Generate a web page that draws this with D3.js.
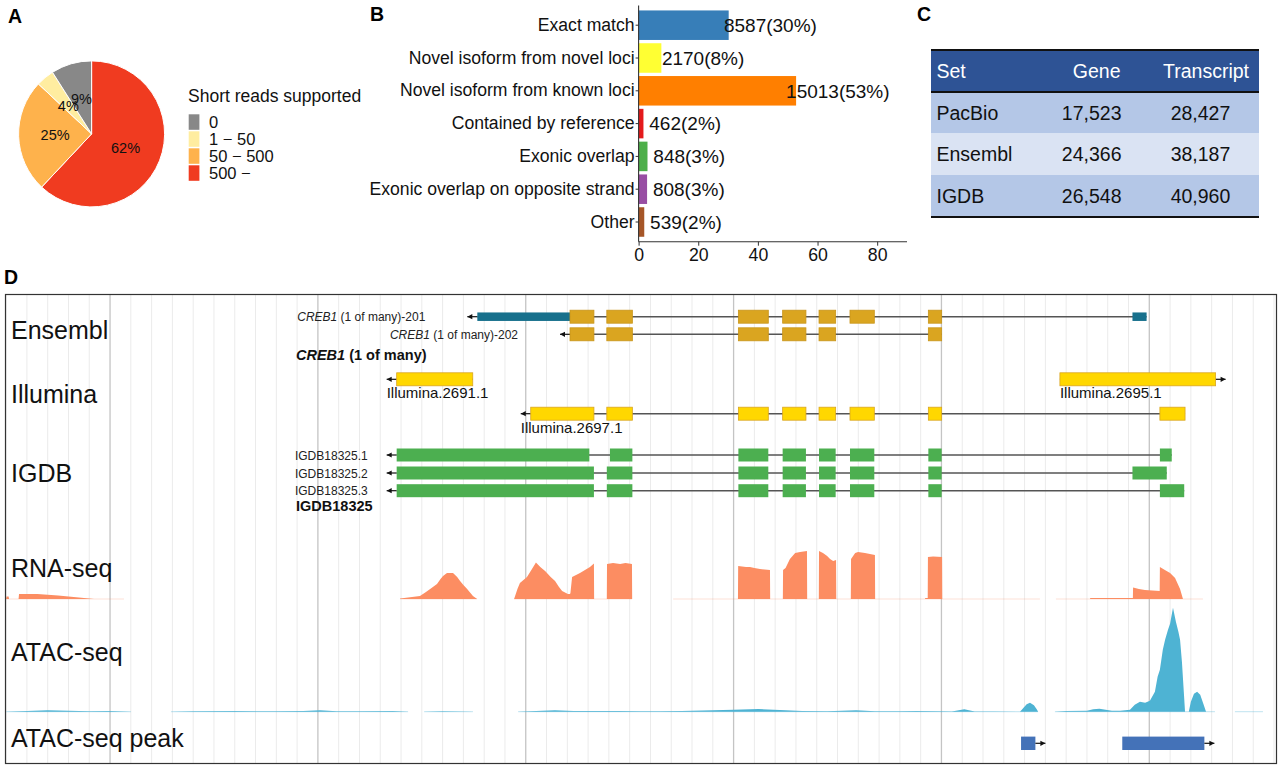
<!DOCTYPE html>
<html><head><meta charset="utf-8">
<script src="https://cdn.jsdelivr.net/npm/d3@7"></script>
<style>
html,body{margin:0;padding:0;background:#fff;}
svg{display:block;font-family:"Liberation Sans",Arial,Helvetica,sans-serif;}
</style></head><body>
<svg id="fig" width="1280" height="767"></svg>
<script>
// ---------------- DATA ----------------
// Panel A
const pieCategories = ["0", "1 \u2212 50", "50 \u2212 500", "500 \u2212"];
const piePercent = [9, 4, 25, 62];
const pieColors = ["#888888", "#FFEDA0", "#FEB24C", "#F03B20"];
const pieTitle = "Short reads supported";

// Panel B
const classCategories = ["Exact match", "Novel isoform from novel loci", "Novel isoform from known loci",
  "Contained by reference", "Exonic overlap", "Exonic overlap on opposite strand", "Other"];
const classCounts = [8587, 2170, 15013, 462, 848, 808, 539];
const classColors = ["#377EB8", "#FFFF33", "#FF7F00", "#E41A1C", "#4DAF4A", "#984EA3", "#A65628"];
const classTicks = [0, 20, 40, 60, 80];

// Panel C
const tableHeader = ["Set", "Gene", "Transcript"];
const tableSets = ["PacBio", "Ensembl", "IGDB"];
const tableGenes = ["17,523", "24,366", "26,548"];
const tableTranscripts = ["28,427", "38,187", "40,960"];

// Panel D (genomic positions in kb)
const trackNames = ["Ensembl", "Illumina", "IGDB", "RNA-seq", "ATAC-seq", "ATAC-seq peak"];
const ensemblTranscripts = [
  {id: "201", lane: 0, strand: "-", utr: [[27.67, 32.13], [59.19, 59.87]],
   cds: [[32.13, 33.28], [33.90, 35.13], [40.23, 41.67], [42.36, 43.48], [44.11, 44.91], [45.60, 46.77], [49.37, 50.01]]},
  {id: "202", lane: 1, strand: "-", utr: [],
   cds: [[32.13, 33.28], [33.90, 35.13], [40.23, 41.67], [42.36, 43.48], [44.11, 44.91], [49.37, 50.01]]}
];
const ensemblGene = "CREB1";
const illuminaTranscripts = [
  {name: "Illumina.2691.1", lane: 0, strand: "-", exons: [[23.79, 27.45]]},
  {name: "Illumina.2695.1", lane: 0, strand: "+", exons: [[55.70, 63.19]]},
  {name: "Illumina.2697.1", lane: 1, strand: "-", exons: [[30.24, 33.28], [33.90, 35.13], [40.23, 41.67], [42.36, 43.48], [44.11, 44.91], [45.60, 46.77], [49.37, 50.01], [60.51, 61.72]]}
];
const igdbTranscripts = [
  {name: "IGDB18325.1", lane: 0, strand: "-", exons: [[23.79, 33.06], [34.05, 35.13], [40.23, 41.67], [42.36, 43.48], [44.11, 44.91], [45.60, 46.77], [49.37, 50.01], [60.51, 61.08]]},
  {name: "IGDB18325.2", lane: 1, strand: "-", exons: [[23.79, 33.28], [33.90, 35.13], [40.23, 41.67], [42.36, 43.48], [44.11, 44.91], [45.60, 46.77], [49.37, 50.01], [59.19, 60.84]]},
  {name: "IGDB18325.3", lane: 2, strand: "-", exons: [[23.79, 33.28], [33.90, 35.13], [40.23, 41.67], [42.36, 43.48], [44.11, 44.91], [45.60, 46.77], [49.37, 50.01], [60.51, 61.68]]}
];
const igdbGene = "IGDB18325";
const rnaCoverage = [
  [5.0, 0], [5.02, 5], [5.12, 5], [5.14, 0], [5.6, 0], [5.62, 10], [6.5, 10], [7.5, 7], [8.5, 3], [9.23, 0],
  [23.95, 0], [23.96, 1], [24.91, 6], [25.2, 14], [25.4, 20], [25.73, 30], [25.9, 40], [26.02, 46], [26.21, 52], [26.5, 52],
  [26.7, 44], [26.84, 36], [27.0, 28], [27.18, 20], [27.46, 6], [27.66, 0],
  [29.44, 0], [29.6, 20], [29.72, 32], [30.06, 44], [30.3, 60], [30.49, 73], [30.7, 64], [30.93, 56], [31.2, 44], [31.41, 36],
  [31.6, 24], [31.75, 16], [32.03, 10], [32.13, 10], [32.15, 12], [32.23, 44], [32.61, 52], [33.09, 64], [33.28, 71], [33.29, 0],
  [33.90, 0], [33.91, 70], [34.2, 72], [34.54, 70], [34.8, 72], [35.11, 70], [35.12, 0],
  [40.21, 0], [40.22, 66], [40.6, 64], [40.79, 64], [41.0, 62], [41.27, 60], [41.75, 58], [41.76, 0],
  [42.37, 0], [42.38, 58], [42.5, 62], [42.71, 80], [42.96, 92], [43.2, 94], [43.53, 96], [43.54, 0],
  [44.10, 0], [44.11, 96], [44.3, 92], [44.5, 86], [44.64, 80], [44.79, 76], [44.93, 78], [44.94, 0],
  [45.64, 0], [45.65, 80], [45.85, 92], [45.99, 94], [46.32, 92], [46.56, 90], [46.80, 88], [46.81, 0],
  [49.21, 0], [49.22, 2], [49.34, 2], [49.35, 84], [49.6, 85], [50.03, 84], [50.04, 0],
  [57.15, 0], [57.16, 2], [59.21, 2], [59.22, 23], [59.5, 20], [59.79, 18], [60.5, 16], [60.51, 64], [60.75, 58],
  [61.0, 52], [61.24, 42], [61.48, 20], [61.62, 0]
];
const rnaCovered = [[5.0, 10.67], [23.95, 27.66], [29.44, 35.11], [37.09, 54.74], [55.51, 62.58]];
const atacCoverage = [
  [5.0, 0], [6.0, 0.8], [7.0, 1.5], [8.0, 1], [9.0, 0.4], [10.0, 0.6], [11.0, 0],
  [12.93, 0], [14, 0.4], [16, 0.6], [18, 0.5], [19.3, 0.6], [20.1, 1.5], [20.9, 0.5], [22, 0.4], [23.6, 0.8], [24.34, 0],
  [25.11, 0], [26, 0.5], [27.46, 0],
  [29.63, 0], [30.5, 0.6], [31.4, 1.5], [32.3, 0.6], [33.5, 0.8], [34.5, 0.6], [35.5, 0.5], [36.5, 0.5], [37.5, 0.8],
  [38.5, 1.2], [40, 2], [41.2, 2.7], [42.5, 1.5], [43.3, 0.6], [44.5, 0.5], [45.9, 1.5], [46.8, 0.5], [48, 0.5],
  [48.8, 0.8], [49.8, 0.4], [50.5, 0.3], [51.1, 2.5], [51.6, 0.3], [52.5, 0.2],
  [53.78, 0], [53.95, 4], [54.1, 7.5], [54.26, 9], [54.45, 6.5], [54.6, 2], [54.65, 0],
  [55.46, 0], [56, 0.7], [57.0, 1], [57.3, 2.5], [57.6, 3], [57.9, 2], [58.2, 1], [58.6, 1], [59.07, 2], [59.3, 7],
  [59.55, 10], [59.8, 9], [60.03, 11], [60.27, 20], [60.4, 35], [60.51, 42], [60.65, 62], [60.76, 72], [60.9, 82],
  [61.0, 88], [61.14, 104], [61.28, 90], [61.4, 80], [61.48, 72], [61.57, 50], [61.66, 20], [61.72, 0],
  [61.9, 0], [62.0, 10], [62.15, 18], [62.3, 20], [62.45, 17], [62.6, 8], [62.73, 0]
];
const atacCovered = [[5.0, 11.01], [12.93, 24.34], [25.11, 27.46], [29.63, 54.65], [55.46, 63.16], [64.12, 65.47]];
const atacPeaks = [{start: 53.83, end: 54.52, strand: "+"}, {start: 58.70, end: 62.65, strand: "+"}];
const genomeDomain = [4.97, 66.12];
const majorTicks = [10, 20, 30, 40, 50, 60];

// ---------------- DRAW ----------------
const svg = d3.select("#fig");
const FONT = '"Liberation Sans",Arial,Helvetica,sans-serif';

function panelLabel(t, x, y) {
  svg.append("text").attr("x", x).attr("y", y).attr("font-size", 19.5).attr("font-weight", "bold").text(t);
}
panelLabel("A", 8, 23);
panelLabel("B", 370, 21);
panelLabel("C", 917, 21);
panelLabel("D", 4, 284);

// ---- Panel A: pie ----
(function () {
  const R = 73;
  const g = svg.append("g").attr("transform", "translate(91.6,133.9)");
  const order = d3.range(pieCategories.length).reverse();
  const slices = order.map(i => ({cat: pieCategories[i], v: piePercent[i], c: pieColors[i]}));
  const arcs = d3.pie().sort(null).value(d => d.v)(slices);
  const arc = d3.arc().innerRadius(0).outerRadius(R);
  g.selectAll("path.s").data(arcs).join("path").attr("class", "s")
    .attr("d", arc).attr("fill", d => d.data.c).attr("stroke", "#fff").attr("stroke-width", 1);
  g.selectAll("text.l").data(arcs).join("text").attr("class", "l")
    .attr("transform", d => `translate(${arc.centroid(d)})`)
    .attr("text-anchor", "middle").attr("dy", "0.36em").attr("font-size", 14.5).attr("fill", "#111")
    .text(d => d.data.v + "%");

  const lg = svg.append("g");
  lg.append("text").attr("x", 188).attr("y", 102).attr("font-size", 17.5).attr("fill", "#111").text(pieTitle);
  const ly = d3.scaleBand().domain(pieCategories).range([114.3, 182.3]);
  lg.selectAll("rect").data(pieCategories).join("rect")
    .attr("x", 188.7).attr("y", d => ly(d)).attr("width", 10.7).attr("height", 15.5)
    .attr("fill", (d, i) => pieColors[i]);
  lg.selectAll("text.k").data(pieCategories).join("text").attr("class", "k")
    .attr("x", 209).attr("y", d => ly(d) + 7.75).attr("dy", "0.36em").attr("font-size", 16.5).attr("fill", "#111")
    .text(d => d);
})();

// ---- Panel B: bars ----
(function () {
  const total = d3.sum(classCounts);
  const pct = classCounts.map(c => c / total * 100);
  const x = d3.scaleLinear().domain([0, 90]).range([638.6, 907]);
  const y = d3.scaleBand().domain(classCategories).range([8.8, 238.4]).paddingInner(0.1).paddingOuter(0.05);
  const g = svg.append("g");
  g.selectAll("rect").data(classCategories).join("rect")
    .attr("x", x(0)).attr("y", d => y(d)).attr("height", y.bandwidth())
    .attr("width", (d, i) => x(pct[i]) - x(0)).attr("fill", (d, i) => classColors[i]);
  g.selectAll("text.v").data(classCategories).join("text").attr("class", "v")
    .attr("x", (d, i) => x(pct[i] + 14)).attr("y", d => y(d) + y.bandwidth() / 2).attr("dy", "0.36em")
    .attr("text-anchor", "middle").attr("font-size", 19).attr("fill", "#111")
    .text((d, i) => classCounts[i] + "(" + Math.round(pct[i]) + "%)");
  const axisY = 241.7;
  const xa = g.append("g").attr("transform", `translate(0,${axisY})`)
    .call(d3.axisBottom(x).tickValues(classTicks).tickSize(4).tickPadding(3));
  xa.select(".domain").remove();
  xa.selectAll("text").attr("font-size", 17.7).attr("font-family", FONT).attr("fill", "#111");
  xa.selectAll("line").attr("stroke", "#333");
  const ya = g.append("g").attr("transform", `translate(${x(0)},0)`)
    .call(d3.axisLeft(y).tickSize(3).tickPadding(1));
  ya.select(".domain").remove();
  ya.selectAll("text").attr("font-size", 17.6).attr("font-family", FONT).attr("fill", "#111");
  ya.selectAll("line").attr("stroke", "#333");
  g.append("line").attr("x1", x(0)).attr("x2", x(0)).attr("y1", 5.5).attr("y2", axisY).attr("stroke", "#333").attr("stroke-width", 1.1);
  g.append("line").attr("x1", x(0)).attr("x2", x(90)).attr("y1", axisY).attr("y2", axisY).attr("stroke", "#333").attr("stroke-width", 1.1);
})();

// ---- Panel C: table ----
(function () {
  const g = svg.append("g");
  const left = 931, right = 1259;
  const rowEdges = [50, 92, 133.5, 175, 217];
  const fills = ["#2E5395", "#B4C7E7", "#DAE3F3", "#B4C7E7"];
  fills.forEach((f, i) => g.append("rect").attr("x", left).attr("y", rowEdges[i]).attr("width", right - left)
    .attr("height", rowEdges[i + 1] - rowEdges[i]).attr("fill", f));
  [[50, 2.2], [92, 1.8], [217, 2.2]].forEach(([yy, w]) =>
    g.append("line").attr("x1", left).attr("x2", right).attr("y1", yy).attr("y2", yy).attr("stroke", "#111").attr("stroke-width", w));
  const fs = 19.5;
  const hy = (rowEdges[0] + rowEdges[1]) / 2;
  g.append("text").attr("x", 936.5).attr("y", hy).attr("dy", "0.36em").attr("font-size", fs).attr("fill", "#fff").text(tableHeader[0]);
  g.append("text").attr("x", 1120.5).attr("y", hy).attr("dy", "0.36em").attr("text-anchor", "end").attr("font-size", fs).attr("fill", "#fff").text(tableHeader[1]);
  g.append("text").attr("x", 1249).attr("y", hy).attr("dy", "0.36em").attr("text-anchor", "end").attr("font-size", fs).attr("fill", "#fff").text(tableHeader[2]);
  tableSets.forEach((s, i) => {
    const cy = (rowEdges[i + 1] + rowEdges[i + 2]) / 2;
    g.append("text").attr("x", 936.5).attr("y", cy).attr("dy", "0.36em").attr("font-size", fs).attr("fill", "#111").text(s);
    g.append("text").attr("x", 1121.5).attr("y", cy).attr("dy", "0.36em").attr("text-anchor", "end").attr("font-size", fs).attr("fill", "#111").text(tableGenes[i]);
    g.append("text").attr("x", 1200.5).attr("y", cy).attr("dy", "0.36em").attr("text-anchor", "middle").attr("font-size", fs).attr("fill", "#111").text(tableTranscripts[i]);
  });
})();

// ---- Panel D: genome browser ----
(function () {
  const box = {x: 5.5, y: 294.5, w: 1271, h: 469};
  const x = d3.scaleLinear().domain(genomeDomain).range([box.x, box.x + box.w]);
  const g = svg.append("g");
  const minor = d3.range(5, 67).filter(v => !majorTicks.includes(v) && x(v) > box.x + 0.5 && x(v) < box.x + box.w - 0.5);
  g.selectAll("line.mi").data(minor).join("line").attr("class", "mi")
    .attr("x1", d => x(d)).attr("x2", d => x(d)).attr("y1", box.y).attr("y2", box.y + box.h)
    .attr("stroke", "#ebebeb").attr("stroke-width", 1);
  g.selectAll("line.ma").data(majorTicks).join("line").attr("class", "ma")
    .attr("x1", d => x(d)).attr("x2", d => x(d)).attr("y1", box.y).attr("y2", box.y + box.h)
    .attr("stroke", "#c4c4c4").attr("stroke-width", 1.3);

  // track labels
  const trackBaselines = [338.5, 403, 482, 576.5, 661, 747];
  g.selectAll("text.tr").data(trackNames).join("text").attr("class", "tr")
    .attr("x", 11).attr("y", (d, i) => trackBaselines[i]).attr("font-size", 25).attr("fill", "#111").text(d => d);

  const arrowLen = 10;
  function arrow(gg, xs, yy, dir) {
    const tip = xs + dir * arrowLen;
    gg.append("line").attr("x1", xs).attr("x2", tip).attr("y1", yy).attr("y2", yy).attr("stroke", "#111").attr("stroke-width", 1.2);
    gg.append("path").attr("d", `M${tip},${yy} L${tip - dir * 5},${yy - 2.6} L${tip - dir * 5},${yy + 2.6} Z`).attr("fill", "#111");
    return tip;
  }
  function transcript(gg, exons, yy, strand, fill, stroke, hgt, extra) {
    const all = exons.concat(extra ? extra.map(e => e.r) : []);
    const s = d3.min(all, e => e[0]), e = d3.max(all, e => e[1]);
    gg.append("line").attr("x1", x(s)).attr("x2", x(e)).attr("y1", yy).attr("y2", yy).attr("stroke", "#555").attr("stroke-width", 1.5);
    let tip;
    if (strand === "-") tip = arrow(gg, x(s), yy, -1); else tip = arrow(gg, x(e), yy, 1);
    if (extra) extra.forEach(u => gg.append("rect").attr("x", x(u.r[0])).attr("width", x(u.r[1]) - x(u.r[0]))
      .attr("y", yy - u.h / 2).attr("height", u.h).attr("fill", u.fill));
    gg.selectAll(null).data(exons).join("rect")
      .attr("x", d => x(d[0])).attr("width", d => x(d[1]) - x(d[0]))
      .attr("y", yy - hgt / 2).attr("height", hgt).attr("fill", fill)
      .attr("stroke", stroke || "none").attr("stroke-width", stroke ? 0.8 : 0);
    return {tip, s, e};
  }

  // Ensembl
  const ensLanes = [316.7, 334.3];
  const ensG = g.append("g");
  ensemblTranscripts.forEach(t => {
    const yy = ensLanes[t.lane];
    const r = transcript(ensG, t.cds, yy, t.strand, "#DAA520", "#C9951A", 13,
      t.utr.map(u => ({r: u, h: 8.5, fill: "#17708C"})));
    const tx = ensG.append("text").attr("x", r.tip - 42).attr("y", yy + 4.6).attr("text-anchor", "end")
      .attr("font-size", 12).attr("fill", "#222");
    tx.append("tspan").attr("font-style", "italic").text(ensemblGene);
    tx.append("tspan").text(" (1 of many)-" + t.id);
  });
  const gl = ensG.append("text").attr("x", 296).attr("y", 360).attr("font-size", 14.5).attr("font-weight", "bold").attr("fill", "#111");
  gl.append("tspan").attr("font-style", "italic").text(ensemblGene);
  gl.append("tspan").text(" (1 of many)");

  // Illumina
  const illLanes = [379.3, 413.7];
  const illG = g.append("g");
  illuminaTranscripts.forEach(t => {
    const yy = illLanes[t.lane];
    const r = transcript(illG, t.exons, yy, t.strand, "#FFD700", "#DAA520", 13);
    const lx = t.strand === "-" ? r.tip : x(r.s);
    illG.append("text").attr("x", lx).attr("y", yy + 19).attr("font-size", 15).attr("fill", "#111").text(t.name);
  });

  // IGDB
  const igLanes = [455, 473, 490.7];
  const igG = g.append("g");
  igdbTranscripts.forEach(t => {
    const yy = igLanes[t.lane];
    const r = transcript(igG, t.exons, yy, t.strand, "#4CAF50", null, 13);
    igG.append("text").attr("x", r.tip - 19).attr("y", yy + 4.6).attr("text-anchor", "end")
      .attr("font-size", 12).attr("fill", "#222").text(t.name);
  });
  igG.append("text").attr("x", 296).attr("y", 511).attr("font-size", 14.5).attr("font-weight", "bold").attr("fill", "#111").text(igdbGene);

  // RNA-seq
  const yR = d3.scaleLinear().domain([0, 100]).range([599, 549]);
  g.selectAll("line.rc").data(rnaCovered).join("line").attr("class", "rc")
    .attr("x1", d => x(d[0])).attr("x2", d => x(d[1])).attr("y1", yR(0)).attr("y2", yR(0))
    .attr("stroke", "#FC8D62").attr("stroke-opacity", 0.25).attr("stroke-width", 1);
  g.append("path").datum(rnaCoverage)
    .attr("d", d3.area().x(d => x(d[0])).y0(yR(0)).y1(d => yR(d[1])))
    .attr("fill", "#FC8D62");

  // ATAC-seq
  const yA = d3.scaleLinear().domain([0, 105]).range([711.7, 606.7]);
  g.selectAll("line.ac").data(atacCovered).join("line").attr("class", "ac")
    .attr("x1", d => x(d[0])).attr("x2", d => x(d[1])).attr("y1", yA(0)).attr("y2", yA(0))
    .attr("stroke", "#4EB3D3").attr("stroke-opacity", 0.35).attr("stroke-width", 1);
  g.append("path").datum(atacCoverage)
    .attr("d", d3.area().x(d => x(d[0])).y0(yA(0)).y1(d => yA(d[1])))
    .attr("fill", "#4EB3D3");

  // ATAC peaks
  const pkY = 743.3;
  const pkG = g.append("g");
  atacPeaks.forEach(p => {
    pkG.append("rect").attr("x", x(p.start)).attr("width", x(p.end) - x(p.start))
      .attr("y", pkY - 6.7).attr("height", 13.4).attr("fill", "#4472B8");
    if (p.strand === "+") arrow(pkG, x(p.end), pkY, 1); else arrow(pkG, x(p.start), pkY, -1);
  });

  g.append("rect").attr("x", box.x).attr("y", box.y).attr("width", box.w).attr("height", box.h)
    .attr("fill", "none").attr("stroke", "#333").attr("stroke-width", 1.2);
})();
</script>
</body></html>
